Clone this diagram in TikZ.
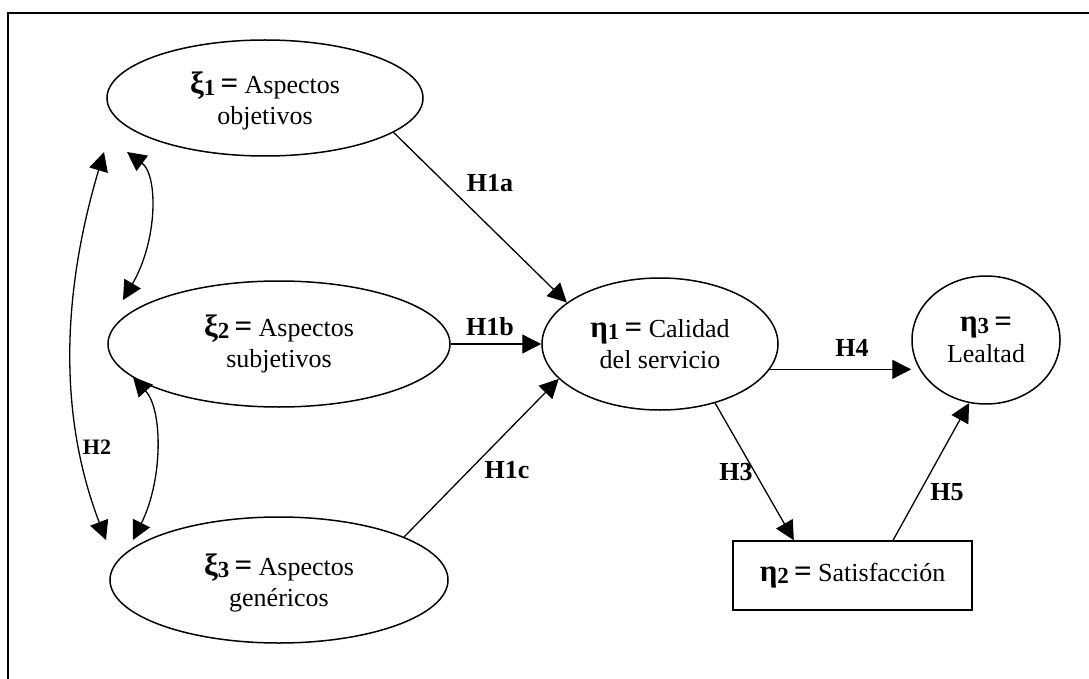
\documentclass[tikz,border=0pt]{standalone}
\usepackage{fontspec}
\setmainfont{Liberation Serif}
\usetikzlibrary{arrows.meta,shapes.geometric}

\newcommand{\lv}[2]{{\bfseries\fontsize{31}{31}\selectfont #1\raisebox{-0.15ex}{\fontsize{23}{23}\selectfont #2}\,=}}

\begin{document}
\begin{tikzpicture}[x=1pt,y=-1pt,
	every node/.style={font=\fontsize{26}{31}\selectfont},
	lat/.style={draw,ellipse,line width=1.5pt,inner sep=0pt,align=center},
	obs/.style={draw,rectangle,line width=1.5pt,inner sep=0pt,align=center},
	effect/.style={-{Triangle[length=19pt,width=19pt]},line width=1.3pt},
	cov/.style={{Triangle[length=19pt,width=19pt]}-{Triangle[length=19pt,width=19pt]},line width=1.3pt},
	hyp/.style={font=\fontsize{26}{31}\selectfont\bfseries}
	]
	\useasboundingbox (0,0) rectangle (1089,679);
	\draw[line width=2pt] (8,679) -- (8,13) -- (1089,13);
	
	\node[lat,minimum width=316pt,minimum height=116pt,text depth=-22pt] (xi1) at (265,98) {\lv{ξ}{1} Aspectos\\objetivos};
	\node[lat,minimum width=342pt,minimum height=126pt] (xi2) at (279,344) {\lv{ξ}{2} Aspectos\\subjetivos};
	\node[lat,minimum width=338pt,minimum height=126pt,text depth=-16pt] (xi3) at (279,580) {\lv{ξ}{3} Aspectos\\genéricos};
	\node[lat,minimum width=236pt,minimum height=132pt] (eta1) at (660,344) {\lv{η}{1} Calidad\\del servicio};
	\node[lat,minimum width=148pt,minimum height=128pt,text depth=-22pt] (eta3) at (986,340) {\lv{η}{3}\\Lealtad};
	\node[obs,minimum width=239pt,minimum height=69pt] (eta2) at (852.5,575.5) {\lv{η}{2} Satisfacción};
	
	\draw[effect] (xi1.-15) -- (eta1.156);
	\draw[effect] (xi2.east) -- (eta1.west);
	\draw[effect] (xi3.19) -- (eta1.199);
	\draw[effect] (eta1.-13) -- (eta1.-13 -| eta3.west);
	\draw[effect] (eta1.-47) -- (eta2.149);
	\draw[effect] (eta2.41) -- (eta3.-105);
	
	\coordinate (a1) at (127,152);
	\coordinate (a2) at (123,300);
	\coordinate (b1) at (133,377);
	\coordinate (b2) at (133,540);
	\coordinate (h2a) at (104,152);
	\coordinate (h2b) at (106,540);
	\draw[cov] (a1) .. controls (158,175) and (158,240) .. (a2);
	\draw[cov] (b1) .. controls (163,410) and (163,480) .. (b2);
	\draw[cov] (h2a) .. controls (60,300) and (60,420) .. (h2b);
	
	\node[hyp] (lh1a) at (490,183) {H1a};
	\node[hyp] (lh1b) at (490,327) {H1b};
	\node[hyp] (lh1c) at (507,470) {H1c};
	\node[hyp] (lh4) at (852,348) {H4};
	\node[hyp] (lh3) at (736,472) {H3};
	\node[hyp] (lh5) at (947,492) {H5};
	\node[hyp,font=\fontsize{22}{26}\selectfont\bfseries] (lh2) at (97,447) {H2};
	
\end{tikzpicture}
\end{document}
